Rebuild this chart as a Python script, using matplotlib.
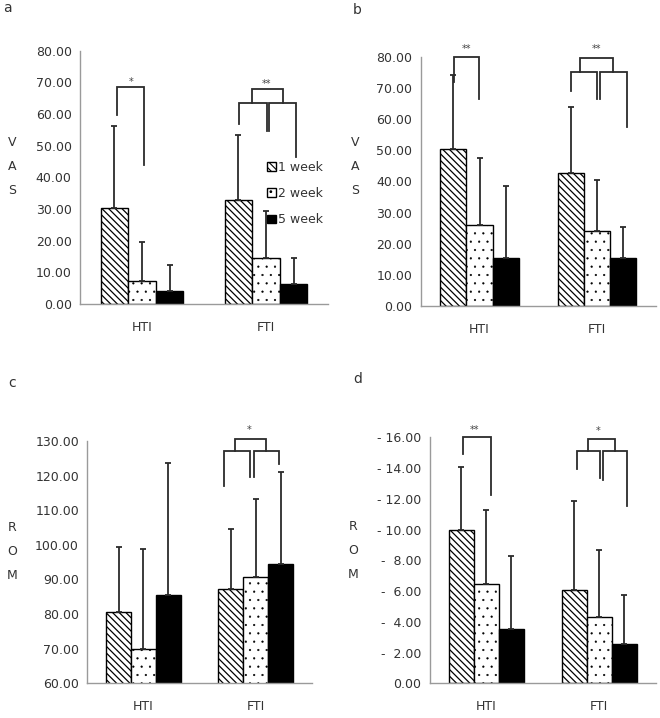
import matplotlib
matplotlib.use("Agg")
import numpy as np
import matplotlib.pyplot as plt
from matplotlib.patches import Patch

plt.rcParams["font.family"] = ["DejaVu Sans"]
plt.rcParams["hatch.linewidth"] = 0.8

GROUPS = ["HTI", "FTI"]
WEEKS = ["1 week", "2 week", "5 week"]

# means [group][week] and upper error lengths
VAS_A_MEAN = [[30.3, 7.3, 4.1], [33.0, 14.6, 6.3]]
VAS_A_ERR = [[25.9, 12.4, 8.2], [20.5, 14.9, 8.3]]
VAS_B_MEAN = [[50.3, 25.9, 15.3], [42.8, 24.1, 15.3]]
VAS_B_ERR = [[23.8, 21.6, 23.2], [20.9, 16.3, 10.2]]
ROM_C_MEAN = [[80.5, 70.0, 85.6], [87.2, 90.6, 94.5]]
ROM_C_ERR = [[19.0, 28.7, 37.9], [17.3, 22.5, 26.6]]
ROM_D_MEAN = [[10.0, 6.44, 3.51], [6.07, 4.34, 2.56]]
ROM_D_ERR = [[4.1, 4.8, 4.8], [5.8, 4.3, 3.2]]

# significance brackets: (x_left, x_right, y_top, y_left_end, y_right_end)
BRACKETS_A = [(-0.204, 0.018, 68.6, 59.7, 43.9),
              (0.785, 1.005, 63.6, 57.0, 54.7),
              (1.027, 1.242, 63.6, 54.7, 46.5),
              (0.885, 1.135, 67.8, 63.6, 63.6)]
STARS_A = [(-0.09, 70.0, "*"), (1.005, 69.5, "**")]
BRACKETS_B = [(-0.216, -0.003, 79.8, 72.0, 66.3),
              (0.781, 1.0, 75.2, 69.1, 66.3),
              (1.023, 1.256, 75.2, 66.3, 57.5),
              (0.858, 1.137, 79.7, 75.2, 75.2)]
STARS_B = [(-0.108, 82.6, "**"), (0.992, 82.6, "**")]
BRACKETS_C = [(0.713, 0.95, 127.2, 117.0, 119.7),
              (0.988, 1.204, 127.2, 119.7, 123.4),
              (0.819, 1.092, 130.7, 127.2, 127.2)]
STARS_C = [(0.94, 133.2, "*")]
BRACKETS_D = [(-0.209, 0.039, 16.04, 14.92, 12.25),
              (0.801, 1.008, 15.13, 13.92, 13.33),
              (1.037, 1.25, 15.13, 13.22, 11.53),
              (0.904, 1.141, 15.91, 15.13, 15.13)]
STARS_D = [(-0.109, 16.45, "**"), (0.993, 16.4, "*")]

W, H = 660, 718
STYLES = [dict(facecolor="white", hatch="\\" * 5),
          dict(facecolor="white", hatch=".."),
          dict(facecolor="black")]
HATCH_LW = [0.9, 0.35, 0.8]
TXT = "#333333"
FS = 9


def set_hatch_lw(patch, lw):
    try:
        patch.set_hatch_linewidth(lw)
    except AttributeError:
        patch._hatch_linewidth = lw


def px_axes(fig, left, right, top, bottom):
    return fig.add_axes([left / W, 1 - bottom / H, (right - left) / W, (bottom - top) / H])


def draw_panel(ax, mean, err, ylim, yticks, ylabel, brackets, stars, lab_xy, fmt):
    mean = np.asarray(mean)
    err = np.asarray(err)
    x = np.arange(len(GROUPS))
    bw = 0.222
    for k, wk in enumerate(WEEKS):
        xs = x + (k - 1) * bw
        bars = ax.bar(xs, mean[:, k], bw, edgecolor="black", linewidth=1.0,
                      label=wk, **STYLES[k])
        for b in bars:
            set_hatch_lw(b, HATCH_LW[k])
        ax.errorbar(xs, mean[:, k], yerr=[np.zeros(len(x)), err[:, k]],
                    fmt="none", ecolor="#2b2b2b", elinewidth=1.3, capsize=2.2,
                    capthick=1.3)
    for xl, xr, yt, yl, yr in brackets:
        ax.plot([xl, xl, xr, xr], [yl, yt, yt, yr], color="#2b2b2b", lw=1.3,
                clip_on=False, solid_joinstyle="miter")
    for sx, sy, s in stars:
        ax.text(sx, sy, s, ha="center", va="center", fontsize=7, color="#444444",
                clip_on=False)
    ax.set_xlim(-0.5, 1.5)
    ax.set_ylim(*ylim)
    ax.set_yticks(yticks)
    ax.set_yticklabels([fmt(v) for v in yticks], fontsize=FS, color=TXT)
    ax.set_xticks(x)
    ax.set_xticklabels(GROUPS, fontsize=FS, color=TXT)
    ax.tick_params(axis="y", length=0, pad=6)
    ax.tick_params(axis="x", length=0, pad=12)
    for s in ["top", "right"]:
        ax.spines[s].set_visible(False)
    for s in ["left", "bottom"]:
        ax.spines[s].set_color("#9a9a9a")
        ax.spines[s].set_linewidth(1.0)
    ax.set_ylabel(ylabel, rotation=0, fontsize=FS, color=TXT, linespacing=2.1,
                  va="center", ha="center")
    ax.yaxis.set_label_coords(*lab_xy)


fig = plt.figure(figsize=(W / 100, H / 100), dpi=100)
fig.patch.set_facecolor("white")

f2 = lambda v: f"{v:.2f}"
fneg = lambda v: "0.00" if v == 0 else f"-{v:6.2f}"

ax_a = px_axes(fig, 80, 328, 50.7, 304)
draw_panel(ax_a, VAS_A_MEAN, VAS_A_ERR, (0, 80), np.arange(0, 81, 10), "V\nA\nS",
           BRACKETS_A, STARS_A, (-0.274, 0.541), f2)
ax_b = px_axes(fig, 420.7, 656, 56.7, 306)
draw_panel(ax_b, VAS_B_MEAN, VAS_B_ERR, (0, 80), np.arange(0, 81, 10), "V\nA\nS",
           BRACKETS_B, STARS_B, (-0.279, 0.558), f2)
ax_c = px_axes(fig, 87.3, 312, 441, 683.3)
draw_panel(ax_c, ROM_C_MEAN, ROM_C_ERR, (60, 130), np.arange(60, 131, 10), "R\nO\nM",
           BRACKETS_C, STARS_C, (-0.335, 0.542), f2)
ax_d = px_axes(fig, 429.9, 655.5, 437.3, 683.3)
draw_panel(ax_d, ROM_D_MEAN, ROM_D_ERR, (0, 16), np.arange(0, 17, 2), "R\nO\nM",
           BRACKETS_D, STARS_D, (-0.341, 0.538), fneg)

handles = [Patch(edgecolor="black", linewidth=1.0, **STYLES[k]) for k in range(3)]
for h, lw in zip(handles, HATCH_LW):
    set_hatch_lw(h, lw)
fig.legend(handles, WEEKS, loc="upper left", bbox_to_anchor=(267 / W, 1 - 161 / H),
           frameon=False, fontsize=FS, handlelength=0.7, handleheight=0.7,
           handletextpad=0.2, labelspacing=1.05, borderpad=0, borderaxespad=0,
           labelcolor=TXT)

for lab, (px, py) in zip("abcd", [(3, 8), (353, 10), (8, 383), (353, 379)]):
    fig.text(px / W, 1 - py / H, lab, fontsize=FS + 1, color=TXT, ha="left", va="center")

fig.savefig("out.png", dpi=100, facecolor="white")
